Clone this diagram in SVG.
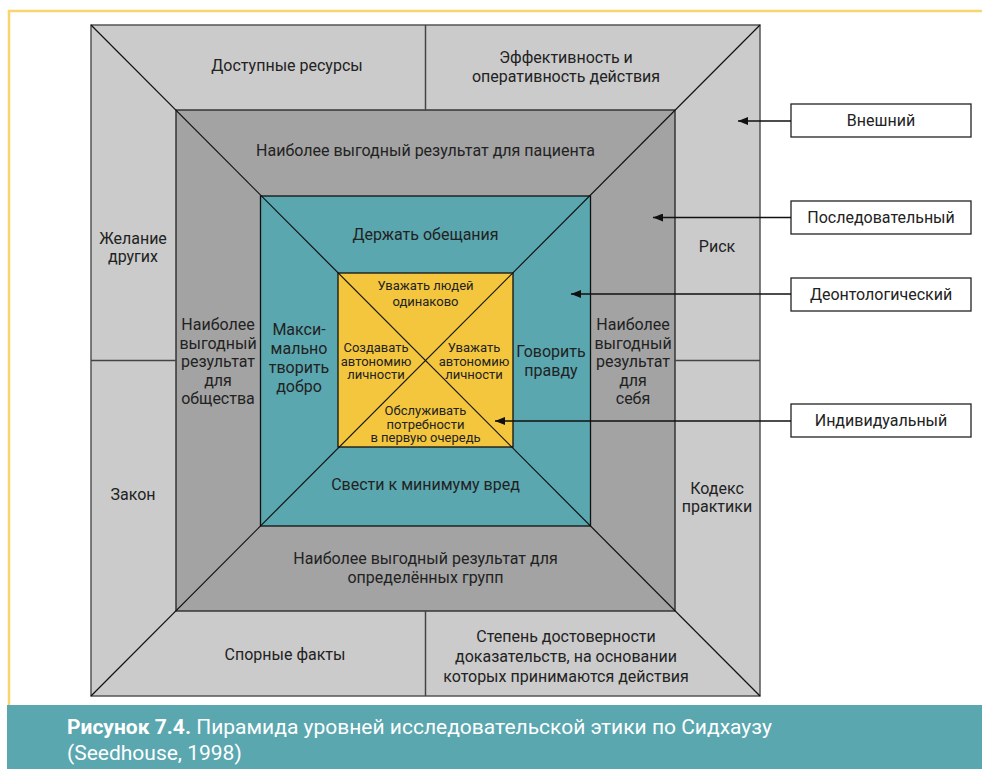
<svg xmlns="http://www.w3.org/2000/svg" width="982" height="769" viewBox="0 0 982 769">
<style>
text{font-family:Roboto,"Liberation Sans",sans-serif;fill:#222;text-anchor:middle}
.t{font-size:16px}
.s{font-size:13px}
.cap{font-size:21px;fill:#fff;text-anchor:start}
.ln{stroke:#111;stroke-width:1.2;fill:none}
.dv{stroke:#444;stroke-width:1.5;fill:none}
.box{fill:#fff;stroke:#222;stroke-width:1.3}
.arr{stroke:#111;stroke-width:1.3;fill:none;marker-end:url(#ah)}
</style>
<defs>
<marker id="ah" viewBox="0 0 10 8" refX="10" refY="4" markerWidth="10" markerHeight="8" markerUnits="userSpaceOnUse" orient="auto">
<path d="M0,0L10,4L0,8Z" fill="#111"/>
</marker>
</defs>
<rect width="982" height="769" fill="#fff"/>
<path d="M9,705V11H982" fill="none" stroke="#f8d66c" stroke-width="2.5"/>
<g id="outer">
<rect x="91" y="25" width="669" height="671" fill="#cbcbcb" stroke="#555" stroke-width="1.5"/>
<text class="t" x="287" y="71">Доступные ресурсы</text>
<text class="t" x="566" y="63">Эффективность и</text>
<text class="t" x="566" y="82">оперативность действия</text>
<text class="t" x="133" y="244">Желание</text>
<text class="t" x="133" y="262">других</text>
<text class="t" x="133" y="500">Закон</text>
<text class="t" x="717" y="252">Риск</text>
<text class="t" x="717" y="494">Кодекс</text>
<text class="t" x="717" y="512">практики</text>
<text class="t" x="285" y="660">Спорные факты</text>
<text class="t" x="566" y="642">Степень достоверности</text>
<text class="t" x="566" y="662">доказательств, на основании</text>
<text class="t" x="566" y="682">которых принимаются действия</text>
</g>
<g id="consequential">
<rect x="176" y="110" width="499" height="501" fill="#a3a3a3" stroke="#222" stroke-width="1.3"/>
<text class="t" x="425.5" y="156">Наиболее выгодный результат для пациента</text>
<text class="t" x="218" y="330">Наиболее</text>
<text class="t" x="218" y="348.5">выгодный</text>
<text class="t" x="218" y="367">результат</text>
<text class="t" x="218" y="385.5">для</text>
<text class="t" x="218" y="404">общества</text>
<text class="t" x="633" y="330">Наиболее</text>
<text class="t" x="633" y="348.5">выгодный</text>
<text class="t" x="633" y="367">результат</text>
<text class="t" x="633" y="385.5">для</text>
<text class="t" x="633" y="404">себя</text>
<text class="t" x="425.5" y="564">Наиболее выгодный результат для</text>
<text class="t" x="425.5" y="583">определённых групп</text>
</g>
<g id="deontological">
<rect x="260.5" y="196" width="330" height="330" fill="#5aa7b0" stroke="#111" stroke-width="1.3"/>
<text class="t" x="425.5" y="240">Держать обещания</text>
<text class="t" x="299" y="335">Макси-</text>
<text class="t" x="299" y="354">мально</text>
<text class="t" x="299" y="373">творить</text>
<text class="t" x="299" y="392">добро</text>
<text class="t" x="551" y="357">Говорить</text>
<text class="t" x="551" y="375.5">правду</text>
<text class="t" x="425.5" y="490">Свести к минимуму вред</text>
</g>
<g id="individual">
<rect x="338" y="273" width="175" height="174" fill="#f4c63d" stroke="#111" stroke-width="1.3"/>
<text class="s" x="425.5" y="290">Уважать людей</text>
<text class="s" x="425.5" y="305.5">одинаково</text>
<text class="s" x="376" y="351.5">Создавать</text>
<text class="s" x="376" y="365.5">автономию</text>
<text class="s" x="376" y="379">личности</text>
<text class="s" x="474" y="351.5">Уважать</text>
<text class="s" x="474" y="365.5">автономию</text>
<text class="s" x="474" y="379">личности</text>
<text class="s" x="425.5" y="415">Обслуживать</text>
<text class="s" x="425.5" y="428.5">потребности</text>
<text class="s" x="425.5" y="442">в первую очередь</text>
</g>
<g id="dividers">
<line class="ln" x1="91" y1="25" x2="760" y2="696"/>
<line class="ln" x1="760" y1="25" x2="91" y2="696"/>
<line class="dv" x1="425.5" y1="25" x2="425.5" y2="110"/>
<line class="dv" x1="425.5" y1="611" x2="425.5" y2="696"/>
<line class="dv" x1="91" y1="360.5" x2="176" y2="360.5"/>
<line class="dv" x1="675" y1="360.5" x2="760" y2="360.5"/>
</g>
<g id="label-external">
<rect class="box" x="791" y="104" width="180" height="33"/>
<text class="t" x="881" y="126">Внешний</text>
</g>
<g id="label-consequential">
<rect class="box" x="791" y="201" width="180" height="33"/>
<text class="t" x="881" y="223">Последовательный</text>
</g>
<g id="label-deontological">
<rect class="box" x="791" y="278" width="180" height="33"/>
<text class="t" x="881" y="300">Деонтологический</text>
</g>
<g id="label-individual">
<rect class="box" x="791" y="404" width="180" height="33"/>
<text class="t" x="881" y="426">Индивидуальный</text>
</g>
<g id="connectors">
<line class="arr" x1="791" y1="121" x2="738" y2="121"/>
<line class="arr" x1="791" y1="217.5" x2="653" y2="217.5"/>
<line class="arr" x1="791" y1="294" x2="571" y2="294"/>
<line class="arr" x1="791" y1="421" x2="495" y2="421"/>
</g>
<g id="caption">
<rect x="7" y="705" width="975" height="64" fill="#5aa7b0"/>
<text class="cap" x="67" y="734"><tspan font-weight="bold">Рисунок 7.4.</tspan> Пирамида уровней исследовательской этики по Сидхаузу</text>
<text class="cap" x="67" y="760">(Seedhouse, 1998)</text>
</g>
</svg>
